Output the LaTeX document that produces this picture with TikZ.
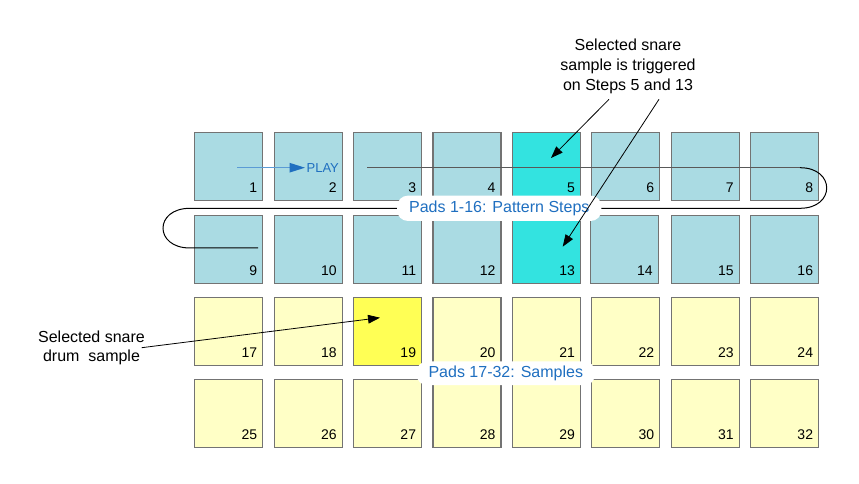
\documentclass[tikz,border=0pt]{standalone}
\usepackage{fontspec}
\setmainfont{Liberation Sans}
\usetikzlibrary{arrows.meta}
\definecolor{padblue}{HTML}{AADBE3}
\definecolor{padcyan}{HTML}{33E3E0}
\definecolor{padpale}{HTML}{FFFFC6}
\definecolor{padyellow}{HTML}{FFFF55}
\definecolor{labelblue}{HTML}{1F6FC0}
\definecolor{playline}{HTML}{5B9BD5}
\tikzset{
  pad/.style={draw=black!55, line width=0.8pt, minimum size=51pt, inner sep=0pt},
  num/.style={inner sep=0pt, font=\fontsize{10.5}{12}\selectfont},
  tag/.style={fill=white, rounded corners=8pt, text=labelblue, inner xsep=9pt, minimum height=19pt, font=\fontsize{12}{14}\selectfont},
  callout/.style={-{Triangle[length=9pt,width=6.5pt]}, line width=0.6pt},
  route/.style={line width=0.75pt}
}
\begin{document}
\begin{tikzpicture}[x=0.75pt, y=-0.75pt]
\useasboundingbox (0,0) rectangle (859,484);
% the 32 pads
\foreach \r in {0,...,3}
 \foreach \c in {0,...,7}{
  \pgfmathtruncatemacro{\n}{8*\r+\c+1}
  \ifnum\r<2 \def\padfill{padblue}\else\def\padfill{padpale}\fi
  \ifnum\n=5 \def\padfill{padcyan}\fi
  \ifnum\n=13 \def\padfill{padcyan}\fi
  \ifnum\n=19 \def\padfill{padyellow}\fi
  \ifnum\n=14 \def\dx{-1.6}\else\def\dx{0}\fi
  \node[pad, fill=\padfill] (p\n) at ({228.8+79.4*\c+\dx},{166.8+82.33*\r}) {};
  \node[num, anchor=base east] (n\n) at ({257.5+79.4*\c+\dx},{192.8+82.33*\r}) {\n};
 }
% pattern route
\draw[route, black!65] (367,167.7) -- (800,167.7);
\draw[route] (800,167.7) .. controls (835.6,167.7) and (835.6,208.3) .. (800,208.3)
  -- (190,208.3) .. controls (154,208.3) and (154,248) .. (190,248) -- (258,248);
% play marker
\coordinate (start) at (237.3,167.7);
\node[text=labelblue, anchor=west, inner sep=1pt, font=\fontsize{9.75}{12}\selectfont] (play) at (305,167.7) {PLAY};
\draw[playline, line width=1pt, -{Triangle[length=11.5pt,width=7pt,color=labelblue]}] (start) -- (play.west);
% labels
\node[tag] (steps) at (499.3,208.3) {Pads 1-16: Pattern Steps};
\node[tag, minimum height=17pt] (samples) at (505.8,373.3) {Pads 17-32: Samples};
% callouts
\node[align=center, font=\fontsize{12}{14.8}\selectfont] (trig) at (628,66.5) {Selected snare\\sample is triggered\\on Steps 5 and 13};
\coordinate (t5) at (609,99.3);
\coordinate (t13) at (659,99.3);
\coordinate (a5) at (551,158);
\coordinate (a13) at (562.7,246.7);
\draw[callout] (t5) -- (a5);
\draw[callout] (t13) -- (a13);
\node[align=center, font=\fontsize{12}{14.3}\selectfont] (snare) at (91.5,347.5) {Selected snare\\drum\ \ sample};
\coordinate (s0) at (141.7,347.7);
\coordinate (a19) at (380,317.7);
\draw[callout] (s0) -- (a19);
\end{tikzpicture}
\end{document}
